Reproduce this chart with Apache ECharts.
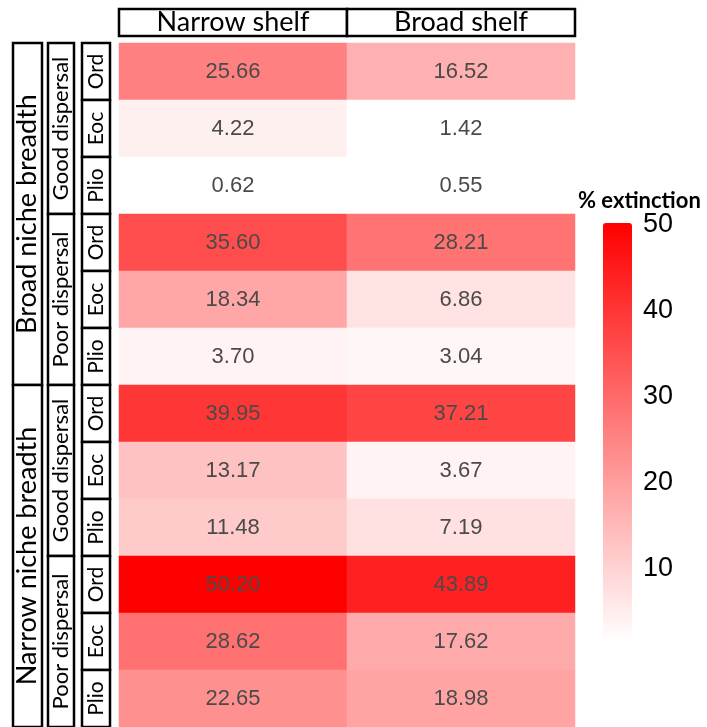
<!DOCTYPE html>
<html>
<head>
<meta charset="utf-8">
<script src="https://cdn.jsdelivr.net/npm/echarts@6/dist/echarts.min.js"></script>
<style>
  html, body { margin: 0; padding: 0; background: #fff; }
  #chart { width: 707px; height: 727px; }
</style>
</head>
<body>
<div id="chart"></div>
<script>
// ---- data ----
const shelfLabels = ['Narrow shelf', 'Broad shelf'];
const nicheLabels = ['Broad niche breadth', 'Narrow niche breadth'];
const dispersalLabels = ['Good dispersal', 'Poor dispersal'];
const epochLabels = ['Ord', 'Eoc', 'Plio'];
const narrowShelf = [25.66, 4.22, 0.62, 35.60, 18.34, 3.70, 39.95, 13.17, 11.48, 50.20, 28.62, 22.65];
const broadShelf  = [16.52, 1.42, 0.55, 28.21, 6.86, 3.04, 37.21, 3.67, 7.19, 43.89, 17.62, 18.98];
const legendTicks = [10, 20, 30, 40, 50];
const legendTitle = '% extinction';
const colorMin = 1.42;
const colorMax = 50.2;

// ---- derived ----
const rowKeys = [];
nicheLabels.forEach(n => dispersalLabels.forEach(d => epochLabels.forEach(e => rowKeys.push(n + '|' + d + '|' + e))));
const columns = [narrowShelf, broadShelf];
const heatData = [];
columns.forEach((col, c) => col.forEach((v, r) => heatData.push([c, r, v])));

const BOX_FONT = 'Lato, "Open Sans", sans-serif';
const NUM_FONT = '"Liberation Sans", Arial, sans-serif';

const chart = echarts.init(document.getElementById('chart'), null, { renderer: 'canvas' });
chart.setOption({
  animation: false,
  backgroundColor: '#ffffff',
  title: {
    text: legendTitle, left: 578, top: 190, padding: 0,
    textStyle: { fontSize: 22, fontWeight: 'bold', fontFamily: BOX_FONT, color: '#000' }
  },
  grid: [
    { left: 119, top: 43, width: 456, height: 684 },
    { left: 603, top: 223, width: 29, height: 419 }
  ],
  xAxis: [
    { type: 'category', data: shelfLabels, gridIndex: 0, show: false },
    { type: 'value', gridIndex: 1, show: false }
  ],
  yAxis: [
    { type: 'category', data: rowKeys, inverse: true, gridIndex: 0, show: false },
    {
      type: 'value', gridIndex: 1, min: colorMin, max: colorMax, position: 'right',
      axisLine: { show: false }, axisTick: { show: false }, splitLine: { show: false },
      axisLabel: { customValues: legendTicks, margin: 11, fontSize: 27, color: '#000', fontFamily: NUM_FONT }
    }
  ],
  visualMap: {
    type: 'continuous', min: colorMin, max: colorMax, seriesIndex: 0,
    inRange: { color: ['#ffffff', '#ff0000'] },
    outOfRange: { color: ['#ffffff'] },
    left: 603, top: 223, itemWidth: 29, itemHeight: 419, padding: 0,
    calculable: false, hoverLink: false, text: null, showLabel: false
  },
  series: [{
    type: 'heatmap', xAxisIndex: 0, yAxisIndex: 0, data: heatData,
    label: {
      show: true, formatter: p => p.value[2].toFixed(2),
      fontSize: 22, color: '#4a4a4a', fontFamily: NUM_FONT
    },
    emphasis: { disabled: true }
  }]
});

// ---- label boxes, positioned via the axes ----
function px(c, r) { return chart.convertToPixel({ seriesIndex: 0 }, [c, r]); }
const p00 = px(0, 0), p11 = px(1, 1);
const bandW = p11[0] - p00[0];
const bandH = p11[1] - p00[1];
const rowTop = r => px(0, r)[1] - bandH / 2;
const colLeft = c => px(c, 0)[0] - bandW / 2;

function box(x, y, w, h, text, fontSize, rotate) {
  return {
    type: 'group',
    children: [
      { type: 'rect', shape: { x: x, y: y, width: w, height: h },
        style: { fill: '#fff', stroke: '#000', lineWidth: 2.5 } },
      { type: 'text', x: x + w / 2, y: y + h / 2, rotation: rotate ? Math.PI / 2 : 0,
        style: { text: text, fontSize: fontSize, fontFamily: BOX_FONT, fill: '#000',
                 align: 'center', verticalAlign: 'middle' } }
    ]
  };
}

const elements = [];
const gridTop = rowTop(0);
shelfLabels.forEach((s, c) => {
  elements.push(box(colLeft(c), gridTop - 34, bandW, 27, s, 27, false));
});
const nE = epochLabels.length, nD = dispersalLabels.length;
rowKeys.forEach((k, r) => {
  elements.push(box(82, rowTop(r), 28, bandH, epochLabels[r % nE], 21, true));
});
for (let g = 0; g < nicheLabels.length * nD; g++) {
  elements.push(box(48, rowTop(g * nE), 26, bandH * nE, dispersalLabels[g % nD], 22, true));
}
nicheLabels.forEach((n, g) => {
  elements.push(box(13, rowTop(g * nE * nD), 29, bandH * nE * nD, n, 27, true));
});
chart.setOption({ graphic: { elements: elements } });
</script>
</body>
</html>
